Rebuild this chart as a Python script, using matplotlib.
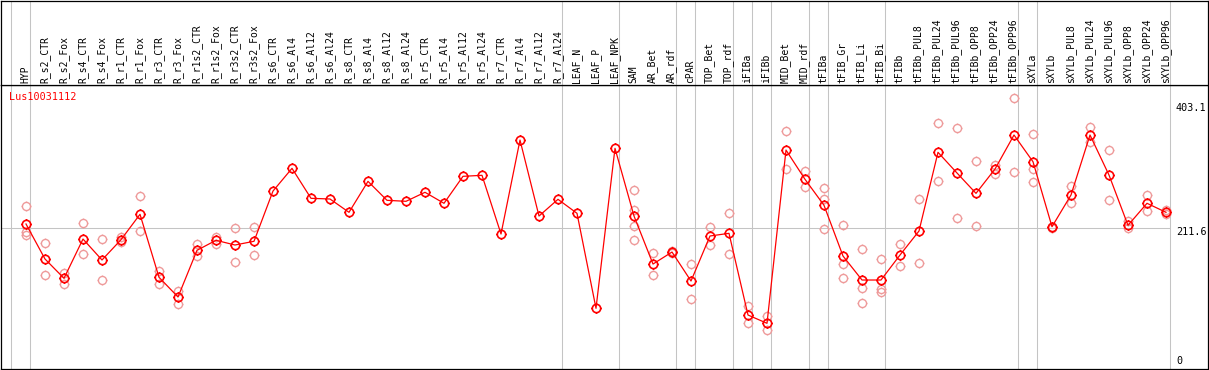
import matplotlib
matplotlib.use("Agg")
import matplotlib.pyplot as plt
import matplotlib.path as mpath
from matplotlib.transforms import blended_transform_factory

# ---------------- data ----------------
categories = [
    "HYP", "R_s2_CTR", "R_s2_Fox", "R_s4_CTR", "R_s4_Fox", "R_r1_CTR", "R_r1_Fox",
    "R_r3_CTR", "R_r3_Fox", "R_r1s2_CTR", "R_r1s2_Fox", "R_r3s2_CTR", "R_r3s2_Fox",
    "R_s6_CTR", "R_s6_Al4", "R_s6_Al12", "R_s6_Al24", "R_s8_CTR", "R_s8_Al4",
    "R_s8_Al12", "R_s8_Al24", "R_r5_CTR", "R_r5_Al4", "R_r5_Al12", "R_r5_Al24",
    "R_r7_CTR", "R_r7_Al4", "R_r7_Al12", "R_r7_Al24", "LEAF_N", "LEAF_P", "LEAF_NPK",
    "SAM", "AR_Bet", "AR_rdf", "cPAR", "TOP_Bet", "TOP_rdf", "iFIBa", "iFIBb",
    "MID_Bet", "MID_rdf", "tFIBa", "tFIB_Gr", "tFIB_Li", "tFIB_Bi", "tFIBb",
    "tFIBb_PUL8", "tFIBb_PUL24", "tFIBb_PUL96", "tFIBb_OPP8", "tFIBb_OPP24",
    "tFIBb_OPP96", "sXYLa", "sXYLb", "sXYLb_PUL8", "sXYLb_PUL24", "sXYLb_PUL96",
    "sXYLb_OPP8", "sXYLb_OPP24", "sXYLb_OPP96",
]

means = [
    217.2, 164.4, 135.3, 194.5, 162.9, 193.5, 231.8, 136.8, 107.1, 177.5, 192.6,
    185.5, 191.1, 266.9, 301.1, 255.9, 254.9, 234.8, 281.5, 252.9, 251.4, 265.0,
    248.4, 289.1, 290.6, 202.1, 343.8, 229.2, 254.4, 233.3, 90.0, 331.3, 229.2,
    156.8, 174.9, 131.2, 199.1, 203.1, 79.9, 67.4, 328.7, 284.6, 245.4, 168.9,
    132.7, 132.7, 170.4, 206.6, 325.3, 294.1, 263.4, 300.1, 351.4, 311.1, 213.1,
    260.9, 351.4, 291.0, 215.2, 248.4, 234.8,
]

replicates = [
    [243.8, 204.6, 200.6], [188.0, 139.8], [143.8, 127.2], [218.2, 171.4],
    [194.5, 132.2], [198.0, 190.5], [258.9, 206.1], [146.3, 126.2], [115.6, 97.0],
    [187.0, 168.4], [197.5, 187.7], [210.6, 159.4], [212.2, 170.0],
    [], [], [], [], [], [], [], [], [], [], [], [], [], [], [], [], [], [], [],
    [268.0, 238.3, 213.7, 192.6], [173.0, 139.8], [177.0, 173.0], [156.4, 104.5],
    [212.6, 185.0], [233.3, 171.4], [93.5, 67.4], [78.4, 57.3], [357.0, 299.6],
    [296.6, 272.5], [271.4, 254.9, 209.2], [215.2, 156.4, 135.3],
    [179.5, 121.1, 97.6], [163.9, 118.7, 114.6], [187.0, 153.3], [254.4, 158.3],
    [369.0, 282.0], [361.5, 226.2], [311.7, 213.7], [306.1, 293.0], [406.7, 295.1],
    [352.4, 299.6, 280.0], [213.1, 210.6], [274.0, 248.4], [363.0, 340.3],
    [328.3, 253.3], [221.7, 210.6], [260.4, 236.3], [238.3, 231.8],
]

group_ends = [0, 28, 31, 34, 35, 37, 38, 39, 41, 42, 45, 52, 53, 60]
y_ticks = [403.1, 211.6, 0]
gene_name = "Lus10031112"

# ---------------- layout ----------------
W, H, DPI = 1209, 370, 100
fig = plt.figure(figsize=(W / DPI, H / DPI), dpi=DPI)
fig.patch.set_facecolor("white")

px0, step = 26.0, 19.0           # pixel x of first column, column spacing
def px_to_idx(p):
    return (p - px0) / step

xl = (px_to_idx(1), px_to_idx(1208))
slope = 211.6 / (368 - 227.7)    # value per pixel
yl = (slope * (368 - 369), slope * (368 - 85))

ax = fig.add_axes([1 / W, (H - 369) / H, 1207 / W, (369 - 85) / H])
hax = fig.add_axes([1 / W, (H - 85) / H, 1207 / W, 85 / H - 0.5 / H], sharex=ax)
for a in (ax, hax):
    a.set_xlim(*xl)
    a.set_xticks([])
    a.set_yticks([])
    for s in a.spines.values():
        s.set_color("black")
        s.set_linewidth(0.9)
ax.set_ylim(*yl)
hax.set_ylim(0, 1)

grey = "#c4c4c4"
lw_px = 0.75

# group separators
sep_x = [px_to_idx(11.0)] + [g + 4.0 / step for g in group_ends]
for sx in sep_x:
    ax.axvline(sx, color=grey, lw=lw_px, zorder=1)
    hax.axvline(sx, color=grey, lw=lw_px, zorder=1)

# horizontal grid line at middle tick
ax.hlines(211.6, xl[0], group_ends[-1] + 4.0 / step, color=grey, lw=lw_px, zorder=1)

# marker: circle with four small ticks
circ = mpath.Path.unit_circle()
verts = list(circ.vertices)
codes = list(circ.codes)
r = 1.2
for a_, b_ in [((0, 1), (0, r)), ((0, -1), (0, -r)), ((1, 0), (r, 0)), ((-1, 0), (-r, 0))]:
    verts += [a_, b_]
    codes += [mpath.Path.MOVETO, mpath.Path.LINETO]
sun = mpath.Path(verts, codes)

xs = list(range(len(categories)))

# replicates
rx, ry = [], []
for i, vals in enumerate(replicates):
    for v in vals:
        rx.append(i)
        ry.append(v)
ax.plot(rx, ry, linestyle="none", marker=sun, markersize=7.0,
        markerfacecolor="none", markeredgecolor="#ee9a9a", markeredgewidth=1.0, zorder=2)

# mean line
ax.plot(xs, means, color="#ff0000", lw=0.9, marker=sun, markersize=7.2,
        markerfacecolor="none", markeredgecolor="#ff0000", markeredgewidth=1.2, zorder=3)

# category labels (rotated) in header
mono = "DejaVu Sans Mono"
htr = blended_transform_factory(hax.transData, hax.transAxes)
for i, c in enumerate(categories):
    hax.text(i - 0.03, 2.0 / 85, c, rotation=90, ha="center", va="bottom",
             fontsize=7.0, family=mono, color="black", transform=htr)

# right-hand value labels
lx = px_to_idx(1176)
offsets = {403.1: -5.0, 211.6: -3.2, 0: 5.2}
for t in y_ticks:
    lab = ("%g" % t)
    ax.annotate(lab, xy=(lx, t), xytext=(0, offsets[t]), textcoords="offset points",
                ha="left", va="center", fontsize=7.3, family=mono, color="black",
                annotation_clip=False)

# gene name
fig.text(8.5 / W, 1 - 97.5 / H, gene_name, color="#ff0000", fontsize=7.3,
         family=mono, ha="left", va="center")

fig.savefig("out.png", dpi=DPI, facecolor="white")
